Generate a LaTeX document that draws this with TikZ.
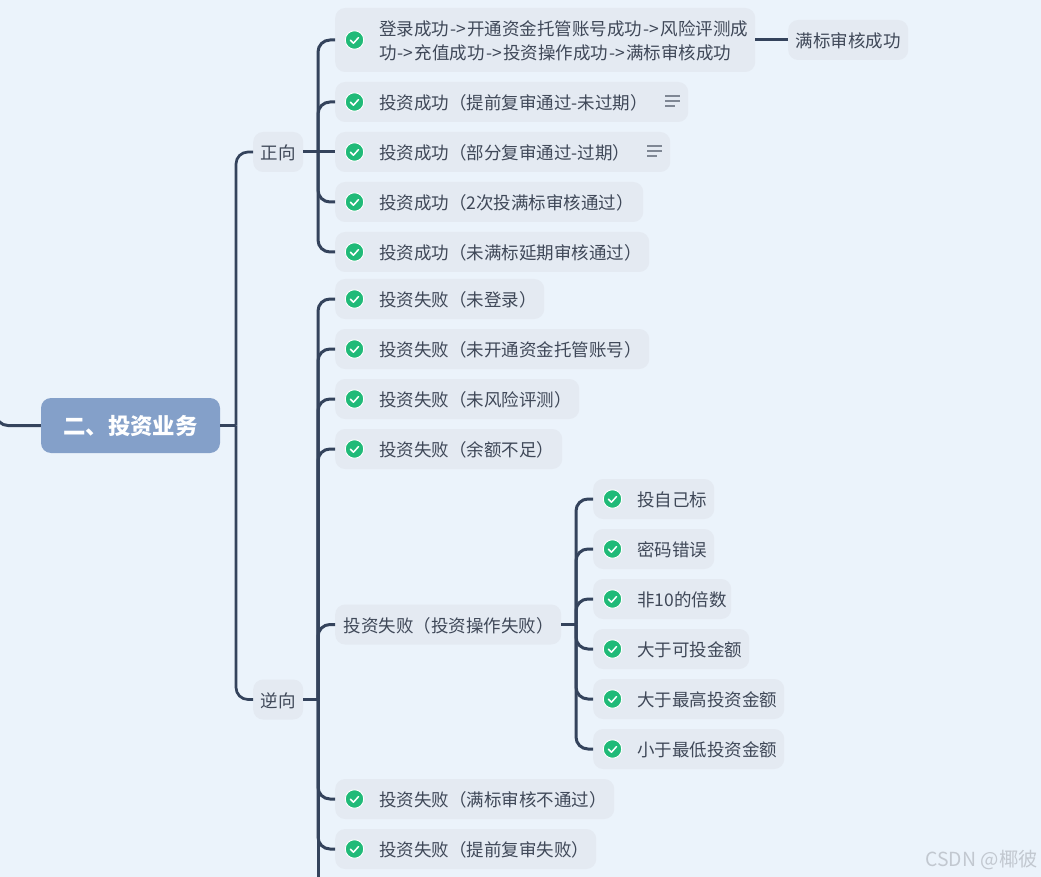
\documentclass[tikz,border=0pt]{standalone}
\usepackage{fontspec}
\setmainfont{Noto Sans CJK SC}
\usetikzlibrary{calc}
\definecolor{pagebg}{HTML}{EBF3FB}
\definecolor{topicbg}{HTML}{E4EAF2}
\definecolor{rootbg}{HTML}{84A0C9}
\definecolor{inkc}{HTML}{3F4858}
\definecolor{linec}{HTML}{34435C}
\definecolor{okc}{HTML}{20BA78}
\definecolor{notec}{HTML}{7F8794}
\definecolor{markc}{HTML}{C2C8D0}
\tikzset{
  topic/.style={fill=topicbg,rounded corners=10pt,anchor=west,inner xsep=0pt,inner ysep=0pt,minimum height=40pt,align=left,text=inkc,font=\fontsize{17.5}{24}\selectfont},
  rootnode/.style={fill=rootbg,rounded corners=10pt,inner sep=0pt,minimum width=179pt,minimum height=55pt,text=white,font=\fontsize{22.4}{26}\selectfont\bfseries},
  okdot/.style={circle,fill=okc,draw=white,line width=0.9pt,inner sep=0pt,minimum size=18.5pt,path picture={\draw[white,line width=1.5pt,line cap=round,line join=round] (path picture bounding box.center) ++(-4,0.2) -- ++(3,3) -- ++(5,-5.6);}},
  conn/.style={draw=linec,line width=3pt,rounded corners=12pt},
  connroot/.style={draw=linec,line width=2.7pt,rounded corners=12pt},
  noteline/.style={draw=notec,line width=1.5pt},
  watermark/.style={text=markc,font=\fontsize{19.4}{22}\selectfont,anchor=east,inner sep=0pt}
}
\newcommand{\vstrut}{\rule[-4.4pt]{0pt}{24pt}}
\newcommand{\arr}{\kern1.2pt->\kern1.2pt}
\newcommand{\mytopic}[6]{\pgfmathsetmacro{\topicw}{#3-#2}\node[topic,text width=\topicw pt] (#1) at (#2,#4) {\hspace*{#5pt}\vstrut #6};}
\newcommand{\oktopic}[5]{\mytopic{#1}{#2}{#3}{#4}{44}{#5}\node[okdot] (#1i) at ({#2+19.5},#4) {};}
\newcommand{\branch}[3]{\draw[conn] (#2 |- #1.east) -- (#2 |- #3.west) -- (#3.west);}
\newcommand{\stub}[2]{\draw[conn] (#1.east) -- (#2 |- #1.east);}
\newcommand{\rootbranch}[3]{\draw[connroot] (#2 |- #1.east) -- (#2 |- #3.west) -- (#3.west);}
\begin{document}
\begin{tikzpicture}[x=1pt,y=-1pt]
\useasboundingbox (0,0) rectangle (1041,877);
\fill[pagebg] (0,0) rectangle (1041,877);

\node[rootnode] (root) at (130.5,425.5) {\raisebox{-1pt}{二、投资业务}};
\mytopic{pos}{253}{303}{152}{7.5}{正向}
\mytopic{neg}{253}{303}{699.5}{7.5}{逆向}

\node[topic,text width=420pt,minimum height=64pt] (a1) at (335,40) {\hspace*{44pt}\vstrut 登录成功\arr 开通资金托管账号成功\arr 风险评测成\\\hspace*{44pt}\vstrut 功\arr 充值成功\arr 投资操作成功\arr 满标审核成功};
\node[okdot] (a1i) at (354.5,40) {};
\oktopic{a2}{335}{688}{102}{投资成功（提前复审通过-未过期）}
\oktopic{a3}{335}{670}{152}{投资成功（部分复审通过-过期）}
\oktopic{a4}{335}{643}{202}{投资成功（2次投满标审核通过）}
\oktopic{a5}{335}{649}{252}{投资成功（未满标延期审核通过）}
\mytopic{full}{788}{908}{40}{7.5}{满标审核成功}

\oktopic{b1}{335}{544}{299}{投资失败（未登录）}
\oktopic{b2}{335}{649}{349}{投资失败（未开通资金托管账号）}
\oktopic{b3}{335}{579}{399}{投资失败（未风险评测）}
\oktopic{b4}{335}{562}{449}{投资失败（余额不足）}
\mytopic{b5}{335}{561}{624.5}{8.5}{投资失败（投资操作失败）}
\oktopic{b6}{335}{614}{799}{投资失败（满标审核不通过）}
\oktopic{b7}{335}{596}{849}{投资失败（提前复审失败）}

\oktopic{c1}{593}{714}{499}{投自己标}
\oktopic{c2}{593}{714}{549}{密码错误}
\oktopic{c3}{593}{731}{599}{非10的倍数}
\oktopic{c4}{593}{749}{649}{大于可投金额}
\oktopic{c5}{593}{784}{699}{大于最高投资金额}
\oktopic{c6}{593}{784}{749}{小于最低投资金额}

\node[watermark] (wm) at (1038,860) {CSDN @椰彼};

\coordinate (spr) at (236,0);
\coordinate (spa) at (318,0);
\coordinate (spc) at (576,0);
\coordinate (leftend) at (-4,405);
\coordinate (leftcorner) at (-4,425.5);
\coordinate (bottomend) at (318,890);

\draw[conn] (leftend) -- (leftcorner) -- (root.west);
\draw[connroot] (root.east) -- (spr |- root.east);
\rootbranch{root}{spr}{pos}
\rootbranch{root}{spr}{neg}

\stub{pos}{spa}
\branch{pos}{spa}{a1}
\branch{pos}{spa}{a2}
\draw[conn] (pos.east) -- (a3.west);
\branch{pos}{spa}{a4}
\branch{pos}{spa}{a5}
\draw[conn] (a1.east) -- (full.west);

\stub{neg}{spa}
\branch{neg}{spa}{b1}
\branch{neg}{spa}{b2}
\branch{neg}{spa}{b3}
\branch{neg}{spa}{b4}
\branch{neg}{spa}{b5}
\branch{neg}{spa}{b6}
\branch{neg}{spa}{b7}
\draw[conn] (spa |- neg.east) -- (bottomend);

\stub{b5}{spc}
\branch{b5}{spc}{c1}
\branch{b5}{spc}{c2}
\branch{b5}{spc}{c3}
\branch{b5}{spc}{c4}
\branch{b5}{spc}{c5}
\branch{b5}{spc}{c6}

\draw[noteline] (665,96) -- (679.5,96) (665,101) -- (679.5,101) (665,106) -- (675,106);
\draw[noteline] (647,146) -- (661.5,146) (647,151) -- (661.5,151) (647,156) -- (657,156);
\end{tikzpicture}
\end{document}
